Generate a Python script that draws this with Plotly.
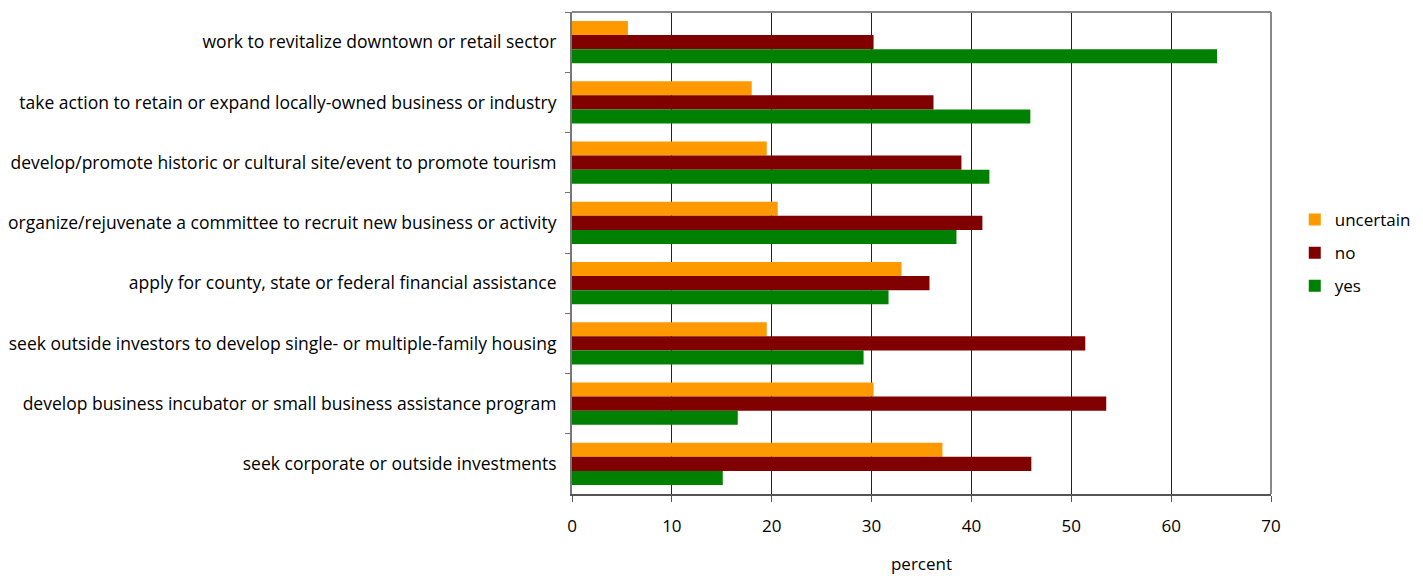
import plotly.graph_objects as go

categories = [
    "work to revitalize downtown or retail sector",
    "take action to retain or expand locally-owned business or industry",
    "develop/promote historic or cultural site/event to promote tourism",
    "organize/rejuvenate a committee to recruit new business or activity",
    "apply for county, state or federal financial assistance",
    "seek outside investors to develop single- or multiple-family housing",
    "develop business incubator or small business assistance program",
    "seek corporate or outside investments",
]
uncertain = [5.6, 18.0, 19.5, 20.6, 33.0, 19.5, 30.2, 37.1]
no = [30.2, 36.2, 39.0, 41.1, 35.8, 51.4, 53.5, 46.0]
yes = [64.6, 45.9, 41.8, 38.5, 31.7, 29.2, 16.6, 15.1]
x_ticks = [0, 10, 20, 30, 40, 50, 60, 70]

FONT = "Open Sans"
FS = 17

fig = go.Figure()
for name, vals, color in [
    ("uncertain", uncertain, "#FF9900"),
    ("no", no, "#800000"),
    ("yes", yes, "#008000"),
]:
    fig.add_trace(go.Bar(y=categories, x=vals, name=name, orientation="h",
                         legendgroup=name,
                         marker=dict(color=color, line=dict(width=0))))

fig.update_layout(
    barmode="group",
    bargap=0.3,
    bargroupgap=0,
    width=1423,
    height=579,
    margin=dict(l=572, r=152, t=12, b=85, autoexpand=False),
    plot_bgcolor="white",
    paper_bgcolor="white",
    font=dict(family=FONT, size=FS, color="black"),
    legend=dict(x=1.034, y=0.5, xanchor="left", yanchor="middle",
                font=dict(size=FS), itemwidth=30, traceorder="grouped",
                tracegroupgap=8),
    showlegend=True,
)
fig.update_xaxes(
    range=[0, 70], tickvals=x_ticks, showgrid=True, gridcolor="#222222", gridwidth=1,
    showline=True, linecolor="#555555", linewidth=2, ticks="outside", ticklen=6,
    tickcolor="#555555", mirror=False, zeroline=False,
    title=dict(text="percent", font=dict(size=FS), standoff=22),
    tickfont=dict(size=FS), ticklabelstandoff=10,
)
fig.update_yaxes(
    autorange="reversed", showline=True, linecolor="#777777", linewidth=2,
    ticks="outside", ticklen=5, tickcolor="#777777", tickson="boundaries",
    showgrid=False, tickfont=dict(size=17.5), ticklabelstandoff=10,
)
# top and right border of plot area
fig.add_shape(type="line", xref="paper", yref="paper", x0=0, x1=1, y0=1, y1=1,
              line=dict(color="#888888", width=2))
fig.add_shape(type="line", xref="paper", yref="paper", x0=1, x1=1, y0=0, y1=1,
              line=dict(color="#888888", width=2))

fig.write_html("out.html")
